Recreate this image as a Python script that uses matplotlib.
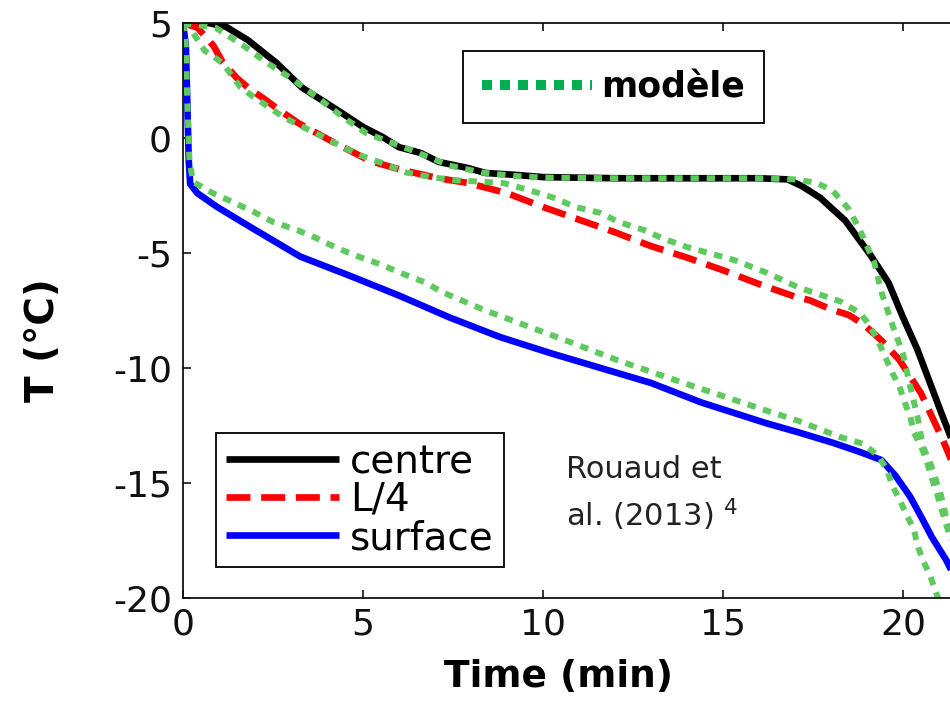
import matplotlib
matplotlib.use("Agg")
import matplotlib.pyplot as plt
from matplotlib.lines import Line2D

plt.rcParams['font.family'] = ['DejaVu Sans']
plt.rcParams['axes.unicode_minus'] = False

# ---------------- data ----------------
centre_t = [0, 0.7, 1.2, 1.8, 2.6, 3.3, 4.0, 4.4, 5.0, 5.55, 6.0, 6.6, 7.1, 7.9, 8.4, 9.2, 10.0,
            12.0, 14.0, 16.0, 16.8, 17.2, 17.7, 18.4, 19.1, 19.6, 20.0, 20.4, 20.75, 21.1, 21.5]
centre_T = [5.0, 5.0, 4.83, 4.26, 3.26, 2.2, 1.5, 1.1, 0.48, 0.04, -0.4, -0.65, -1.04, -1.3, -1.52, -1.6, -1.7,
            -1.75, -1.75, -1.75, -1.8, -2.1, -2.6, -3.6, -5.1, -6.3, -7.8, -9.2, -10.65, -12.1, -13.7]

centre_mod_t = [0, 0.9, 1.6, 2.3, 3.0, 3.7, 4.45, 5.1, 6.3, 7.4, 8.3, 9.2, 10.0, 12.0, 14.0, 16.0, 17.0,
                17.6, 18.05, 18.5, 18.8, 19.2, 19.4, 19.7, 20.0, 20.2, 20.4, 20.55, 20.75, 20.9, 21.05, 21.2, 21.5]
centre_mod_T = [5.0, 4.8, 4.1, 3.3, 2.6, 1.8, 0.9, 0.2, -0.5, -1.2, -1.5, -1.65, -1.72, -1.75, -1.75, -1.75, -1.8,
                -1.95, -2.3, -3.1, -4.0, -5.4, -6.7, -8.1, -9.4, -10.8, -12.1, -13.4, -14.1, -14.8, -15.5, -16.5, -18.3]

l4_t = [0, 0.4, 0.85, 1.1, 1.5, 1.8, 2.3, 2.6, 3.2, 4.2, 5.2, 6.1, 7.1, 7.9, 9.0, 10.0, 11.0, 12.0, 13.0,
        14.0, 15.0, 16.0, 17.0, 17.4, 18.0, 18.5, 18.9, 19.4, 19.9, 20.5, 20.8, 21.1, 21.5]
l4_T = [5.0, 4.8, 4.0, 3.3, 2.6, 2.2, 1.65, 1.3, 0.65, -0.2, -1.0, -1.4, -1.75, -1.95, -2.4, -3.0, -3.55, -4.1, -4.7,
        -5.2, -5.75, -6.35, -6.9, -7.05, -7.45, -7.7, -8.1, -8.8, -9.65, -11.1, -12.1, -13.1, -14.6]

l4_mod_t = [0, 0.1, 0.6, 1.1, 1.6, 1.95, 2.8, 3.33, 3.9, 4.45, 4.9, 5.55, 6.2, 6.9, 7.5, 8.25, 8.9, 9.6, 10.3,
            10.9, 11.6, 12.1, 12.8, 13.3, 14.0, 15.3, 16.2, 17.1, 18.25, 18.8, 19.05, 19.3, 19.5, 19.7, 19.9,
            20.05, 20.2, 20.3, 20.5, 20.65, 20.8, 20.95, 21.1, 21.5]
l4_mod_T = [5.0, 5.0, 3.8, 3.26, 2.2, 1.8, 0.9, 0.48, 0.04, -0.4, -0.74, -1.1, -1.5, -1.7, -1.83, -1.9, -1.96, -2.26, -2.6,
            -3.0, -3.26, -3.65, -4.0, -4.35, -4.74, -5.3, -5.85, -6.5, -7.1, -7.6, -8.1, -8.8, -9.5, -10.2, -10.8,
            -11.5, -12.1, -12.8, -13.4, -14.0, -14.8, -15.5, -16.3, -18.3]

surf_t = [0, 0.08, 0.12, 0.16, 0.2, 0.4, 0.95, 1.85, 3.25, 4.65, 6.0, 7.4, 8.8, 10.2, 11.6, 13.0, 14.4,
          16.2, 17.1, 18.05, 18.8, 19.4, 19.8, 20.2, 20.55, 20.8, 21.2, 21.5]
surf_T = [5.0, 4.0, 1.5, -1.0, -2.0, -2.4, -3.0, -3.85, -5.15, -6.0, -6.85, -7.8, -8.65, -9.35, -10.0, -10.65, -11.5,
          -12.4, -12.8, -13.25, -13.65, -14.0, -14.7, -15.6, -16.6, -17.35, -18.35, -19.3]

surf_mod_t = [0, 0.08, 0.12, 0.18, 0.28, 0.83, 1.4, 1.95, 2.5, 3.17, 3.7, 4.3, 4.9, 5.5, 6.1, 6.7, 7.2, 8.4, 9.6,
              10.8, 12.05, 13.25, 14.0, 16.2, 17.1, 18.25, 18.9, 19.3, 19.55, 19.7, 19.9, 20.1, 20.3, 20.4, 20.55,
              20.75, 20.9, 21.05]
surf_mod_T = [5.0, 4.0, 1.5, -1.0, -1.9, -2.4, -2.8, -3.2, -3.65, -4.0, -4.35, -4.8, -5.17, -5.5, -5.9, -6.26, -6.7,
              -7.5, -8.2, -8.9, -9.65, -10.3, -10.7, -11.85, -12.3, -13.0, -13.3, -13.8, -14.4, -15.1, -15.7, -16.4,
              -17.0, -17.7, -18.35, -19.0, -19.7, -20.3]

series_labels = ['centre', 'L/4', 'surface']
model_label = 'modèle'
x_ticks = [0, 5, 10, 15, 20]
y_ticks = [-20, -15, -10, -5, 0, 5]

# ---------------- figure ----------------
W, H = 950, 705
fig = plt.figure(figsize=(W / 100, H / 100), dpi=100)
ax = fig.add_axes([183 / W, 107 / H, 864 / W, 575 / H])
ax.set_xlim(0, 24)
ax.set_ylim(-20, 5)

lw = 4.8
green = '#5fc95f'
l_c, = ax.plot(centre_t, centre_T, color='black', lw=lw, solid_capstyle='butt')
l_l4, = ax.plot(l4_t, l4_T, color='#ff0000', lw=lw, linestyle=(0, (3.6, 1.6)), dash_capstyle='butt')
l_s, = ax.plot(surf_t, surf_T, color='#0000ff', lw=lw, solid_capstyle='butt')
for tt, TT in [(centre_mod_t, centre_mod_T), (l4_mod_t, l4_mod_T), (surf_mod_t, surf_mod_T)]:
    ax.plot(tt, TT, color=green, lw=4.3, linestyle=(0, (1.4, 1.3)), dash_capstyle='butt')

ax.set_xticks(x_ticks)
ax.set_yticks(y_ticks)
ax.tick_params(direction='in', length=6, width=1.2, top=True, right=True,
               labelsize=26, colors='#111111')
ax.tick_params(axis='y', pad=8)
ax.tick_params(axis='x', pad=7)
for sp in ax.spines.values():
    sp.set_linewidth(1.3)
    sp.set_color('#111111')

# axis labels
fig.text(558 / W, 1 - 687 / H, 'Time (min)', fontsize=27, fontweight='bold',
         ha='center', va='baseline')
fig.text(43 / W, 1 - 340 / H, 'T (°C)', fontsize=28, fontweight='bold',
         ha='center', va='center', rotation=90)

# legend (experimental)
leg1 = ax.legend([l_c, l_l4, l_s], series_labels, loc='center left',
                 bbox_to_anchor=(216 / W, 1 - 500 / H), bbox_transform=fig.transFigure,
                 fontsize=28, handlelength=2.9, handletextpad=0.3, borderpad=0.25,
                 labelspacing=0.0, borderaxespad=0, fancybox=False, framealpha=1,
                 edgecolor='black')
leg1.get_frame().set_linewidth(1.3)
ax.add_artist(leg1)

# legend (model)
proxy = Line2D([], [], color='#00b050', lw=7.2, linestyle=(0, (1.0, 0.8)), dash_capstyle='butt')
leg2 = ax.legend([proxy], [model_label], loc='center left',
                 bbox_to_anchor=(463 / W, 1 - 87 / H), bbox_transform=fig.transFigure,
                 prop={'size': 25, 'weight': 'bold'}, handlelength=3.17, handletextpad=0.26,
                 borderpad=0.55, borderaxespad=0, fancybox=False, framealpha=1,
                 edgecolor='black')
leg2.get_frame().set_linewidth(1.3)

# reference note
fig.text(566 / W, 1 - 470 / H, 'Rouaud et', fontsize=22, color='#222222', ha='left', va='center')
fig.text(566 / W, 1 - 515 / H, 'al. (2013) $^{4}$', fontsize=22, color='#222222', ha='left', va='center')

fig.savefig('out.png', dpi=100)
